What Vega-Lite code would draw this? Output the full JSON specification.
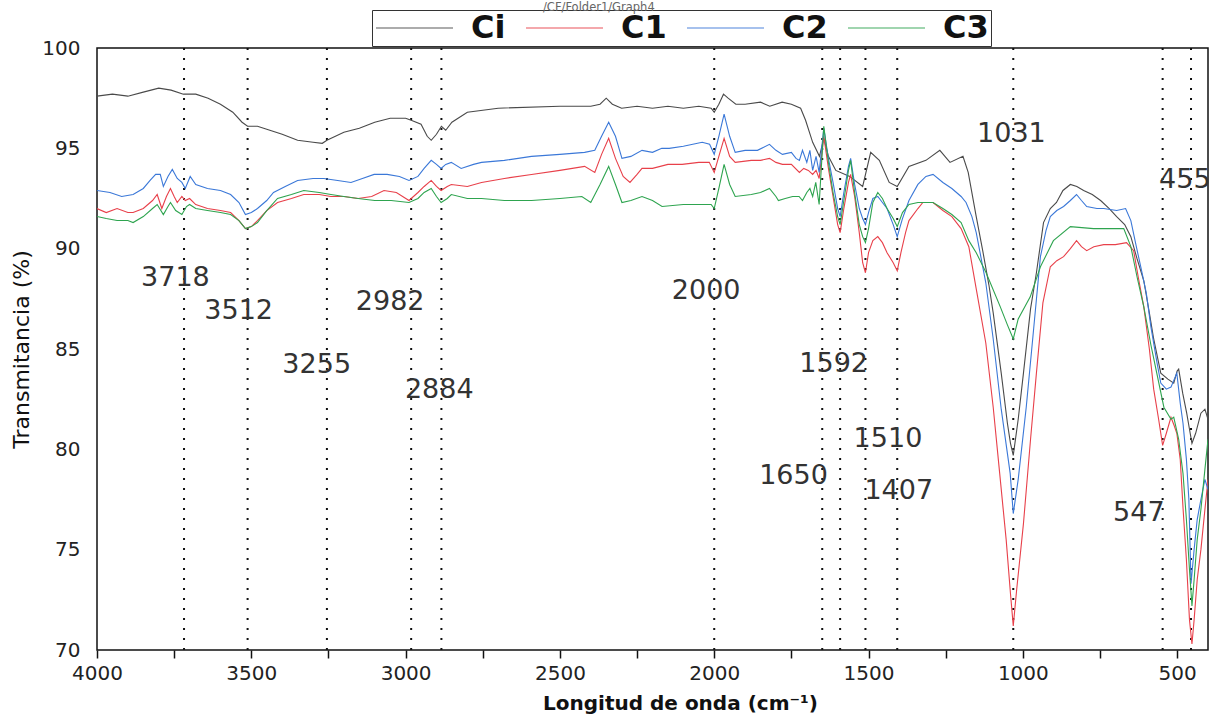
{
"$schema":"https://vega.github.io/schema/vega-lite/v6.json",
"width":1111,"height":602,
"autosize":"none",
"padding":{"left":97,"top":48,"right":5,"bottom":69},
"background":"white",
"config":{"view":{"stroke":"#111","strokeWidth":1.5},"font":"DejaVu Sans"},
"title":{"text":"/CF/Folder1/Graph4","fontSize":11.5,"fontWeight":"normal","color":"#666","anchor":"start","frame":"group","dx":446,"offset":0,"dy":4},
"datasets":{
"peaks":[{"wn":3718},{"wn":3512},{"wn":3255},{"wn":2982},{"wn":2884},{"wn":2000},{"wn":1650},{"wn":1592},{"wn":1510},{"wn":1407},{"wn":1031},{"wn":547},{"wn":455}],
"labels":[
{"wn":3746,"t":88.54,"label":"3718"},{"wn":3541,"t":86.9,"label":"3512"},{"wn":3288,"t":84.2,"label":"3255"},{"wn":3050,"t":87.34,"label":"2982"},{"wn":2891,"t":82.96,"label":"2884"},{"wn":2026,"t":87.9,"label":"2000"},{"wn":1613,"t":84.26,"label":"1592"},{"wn":1743,"t":78.67,"label":"1650"},{"wn":1437,"t":80.52,"label":"1510"},{"wn":1402,"t":77.93,"label":"1407"},{"wn":1037,"t":95.71,"label":"1031"},{"wn":475,"t":93.42,"label":"455"},{"wn":624,"t":76.83,"label":"547"}],
"spectra":[
{"s":"Ci","wn":4000,"t":97.6},{"s":"Ci","wn":3950,"t":97.7},{"s":"Ci","wn":3900,"t":97.6},{"s":"Ci","wn":3850,"t":97.8},{"s":"Ci","wn":3800,"t":98.0},{"s":"Ci","wn":3760,"t":97.9},{"s":"Ci","wn":3720,"t":97.7},{"s":"Ci","wn":3680,"t":97.7},{"s":"Ci","wn":3640,"t":97.5},{"s":"Ci","wn":3600,"t":97.2},{"s":"Ci","wn":3560,"t":96.8},{"s":"Ci","wn":3530,"t":96.3},{"s":"Ci","wn":3512,"t":96.1},{"s":"Ci","wn":3480,"t":96.1},{"s":"Ci","wn":3440,"t":95.9},{"s":"Ci","wn":3400,"t":95.7},{"s":"Ci","wn":3350,"t":95.4},{"s":"Ci","wn":3300,"t":95.3},{"s":"Ci","wn":3270,"t":95.25},{"s":"Ci","wn":3255,"t":95.4},{"s":"Ci","wn":3200,"t":95.8},{"s":"Ci","wn":3150,"t":96.0},{"s":"Ci","wn":3100,"t":96.3},{"s":"Ci","wn":3050,"t":96.5},{"s":"Ci","wn":3000,"t":96.5},{"s":"Ci","wn":2982,"t":96.4},{"s":"Ci","wn":2950,"t":96.2},{"s":"Ci","wn":2930,"t":95.6},{"s":"Ci","wn":2917,"t":95.4},{"s":"Ci","wn":2900,"t":95.7},{"s":"Ci","wn":2884,"t":96.1},{"s":"Ci","wn":2870,"t":95.9},{"s":"Ci","wn":2850,"t":96.3},{"s":"Ci","wn":2800,"t":96.8},{"s":"Ci","wn":2700,"t":97.0},{"s":"Ci","wn":2500,"t":97.1},{"s":"Ci","wn":2400,"t":97.1},{"s":"Ci","wn":2370,"t":97.2},{"s":"Ci","wn":2350,"t":97.5},{"s":"Ci","wn":2330,"t":97.2},{"s":"Ci","wn":2300,"t":97.0},{"s":"Ci","wn":2250,"t":97.1},{"s":"Ci","wn":2200,"t":97.0},{"s":"Ci","wn":2150,"t":97.1},{"s":"Ci","wn":2100,"t":97.0},{"s":"Ci","wn":2050,"t":97.1},{"s":"Ci","wn":2010,"t":97.0},{"s":"Ci","wn":2000,"t":96.8},{"s":"Ci","wn":1985,"t":97.2},{"s":"Ci","wn":1970,"t":97.7},{"s":"Ci","wn":1955,"t":97.5},{"s":"Ci","wn":1930,"t":97.2},{"s":"Ci","wn":1900,"t":97.2},{"s":"Ci","wn":1850,"t":97.3},{"s":"Ci","wn":1820,"t":97.1},{"s":"Ci","wn":1780,"t":97.3},{"s":"Ci","wn":1750,"t":97.2},{"s":"Ci","wn":1720,"t":97.0},{"s":"Ci","wn":1704,"t":96.4},{"s":"Ci","wn":1681,"t":95.3},{"s":"Ci","wn":1659,"t":94.6},{"s":"Ci","wn":1645,"t":95.5},{"s":"Ci","wn":1630,"t":94.6},{"s":"Ci","wn":1606,"t":93.9},{"s":"Ci","wn":1561,"t":93.6},{"s":"Ci","wn":1519,"t":93.1},{"s":"Ci","wn":1493,"t":94.8},{"s":"Ci","wn":1465,"t":94.4},{"s":"Ci","wn":1433,"t":93.3},{"s":"Ci","wn":1407,"t":93.1},{"s":"Ci","wn":1369,"t":94.1},{"s":"Ci","wn":1314,"t":94.4},{"s":"Ci","wn":1269,"t":94.9},{"s":"Ci","wn":1236,"t":94.3},{"s":"Ci","wn":1194,"t":94.6},{"s":"Ci","wn":1177,"t":93.8},{"s":"Ci","wn":1151,"t":91.6},{"s":"Ci","wn":1130,"t":89.9},{"s":"Ci","wn":1110,"t":88.2},{"s":"Ci","wn":1096,"t":86.8},{"s":"Ci","wn":1070,"t":83.8},{"s":"Ci","wn":1050,"t":81.3},{"s":"Ci","wn":1040,"t":80.3},{"s":"Ci","wn":1031,"t":79.7},{"s":"Ci","wn":1015,"t":81.5},{"s":"Ci","wn":998,"t":83.8},{"s":"Ci","wn":975,"t":87.0},{"s":"Ci","wn":956,"t":88.8},{"s":"Ci","wn":933,"t":91.3},{"s":"Ci","wn":911,"t":92.0},{"s":"Ci","wn":891,"t":92.3},{"s":"Ci","wn":870,"t":92.9},{"s":"Ci","wn":846,"t":93.2},{"s":"Ci","wn":825,"t":93.1},{"s":"Ci","wn":803,"t":92.9},{"s":"Ci","wn":775,"t":92.7},{"s":"Ci","wn":748,"t":92.4},{"s":"Ci","wn":720,"t":92.0},{"s":"Ci","wn":696,"t":91.6},{"s":"Ci","wn":670,"t":91.2},{"s":"Ci","wn":650,"t":90.6},{"s":"Ci","wn":630,"t":89.5},{"s":"Ci","wn":608,"t":88.4},{"s":"Ci","wn":590,"t":86.8},{"s":"Ci","wn":576,"t":85.5},{"s":"Ci","wn":553,"t":83.8},{"s":"Ci","wn":530,"t":83.5},{"s":"Ci","wn":511,"t":83.3},{"s":"Ci","wn":500,"t":83.9},{"s":"Ci","wn":495,"t":84.0},{"s":"Ci","wn":482,"t":82.8},{"s":"Ci","wn":469,"t":81.8},{"s":"Ci","wn":460,"t":81.0},{"s":"Ci","wn":452,"t":80.3},{"s":"Ci","wn":440,"t":80.8},{"s":"Ci","wn":423,"t":81.8},{"s":"Ci","wn":410,"t":82.0},{"s":"Ci","wn":400,"t":81.5},
{"s":"C1","wn":4000,"t":92.0},{"s":"C1","wn":3970,"t":91.8},{"s":"C1","wn":3935,"t":92.0},{"s":"C1","wn":3900,"t":91.8},{"s":"C1","wn":3883,"t":91.8},{"s":"C1","wn":3850,"t":92.0},{"s":"C1","wn":3820,"t":92.4},{"s":"C1","wn":3805,"t":92.7},{"s":"C1","wn":3790,"t":92.0},{"s":"C1","wn":3775,"t":92.6},{"s":"C1","wn":3762,"t":93.0},{"s":"C1","wn":3750,"t":92.6},{"s":"C1","wn":3740,"t":92.3},{"s":"C1","wn":3725,"t":92.6},{"s":"C1","wn":3714,"t":92.4},{"s":"C1","wn":3700,"t":92.5},{"s":"C1","wn":3680,"t":92.2},{"s":"C1","wn":3642,"t":92.0},{"s":"C1","wn":3600,"t":91.9},{"s":"C1","wn":3567,"t":91.8},{"s":"C1","wn":3540,"t":91.4},{"s":"C1","wn":3519,"t":91.0},{"s":"C1","wn":3500,"t":91.1},{"s":"C1","wn":3480,"t":91.4},{"s":"C1","wn":3450,"t":91.9},{"s":"C1","wn":3415,"t":92.3},{"s":"C1","wn":3370,"t":92.5},{"s":"C1","wn":3330,"t":92.7},{"s":"C1","wn":3280,"t":92.7},{"s":"C1","wn":3242,"t":92.6},{"s":"C1","wn":3200,"t":92.6},{"s":"C1","wn":3154,"t":92.5},{"s":"C1","wn":3110,"t":92.6},{"s":"C1","wn":3070,"t":92.9},{"s":"C1","wn":3030,"t":92.8},{"s":"C1","wn":2989,"t":92.4},{"s":"C1","wn":2960,"t":92.8},{"s":"C1","wn":2940,"t":93.1},{"s":"C1","wn":2917,"t":93.4},{"s":"C1","wn":2900,"t":93.1},{"s":"C1","wn":2885,"t":92.9},{"s":"C1","wn":2865,"t":93.1},{"s":"C1","wn":2852,"t":93.2},{"s":"C1","wn":2800,"t":93.1},{"s":"C1","wn":2754,"t":93.3},{"s":"C1","wn":2680,"t":93.5},{"s":"C1","wn":2592,"t":93.7},{"s":"C1","wn":2500,"t":93.9},{"s":"C1","wn":2420,"t":94.1},{"s":"C1","wn":2387,"t":93.8},{"s":"C1","wn":2365,"t":94.7},{"s":"C1","wn":2342,"t":95.5},{"s":"C1","wn":2320,"t":94.5},{"s":"C1","wn":2295,"t":93.6},{"s":"C1","wn":2273,"t":93.3},{"s":"C1","wn":2250,"t":93.7},{"s":"C1","wn":2234,"t":94.0},{"s":"C1","wn":2200,"t":94.0},{"s":"C1","wn":2150,"t":94.2},{"s":"C1","wn":2104,"t":94.2},{"s":"C1","wn":2050,"t":94.3},{"s":"C1","wn":2016,"t":94.3},{"s":"C1","wn":2000,"t":93.8},{"s":"C1","wn":1985,"t":94.6},{"s":"C1","wn":1968,"t":95.5},{"s":"C1","wn":1950,"t":94.6},{"s":"C1","wn":1932,"t":94.3},{"s":"C1","wn":1880,"t":94.4},{"s":"C1","wn":1850,"t":94.4},{"s":"C1","wn":1821,"t":94.5},{"s":"C1","wn":1800,"t":94.3},{"s":"C1","wn":1779,"t":94.2},{"s":"C1","wn":1750,"t":94.2},{"s":"C1","wn":1724,"t":93.8},{"s":"C1","wn":1710,"t":94.0},{"s":"C1","wn":1695,"t":93.9},{"s":"C1","wn":1681,"t":93.7},{"s":"C1","wn":1670,"t":93.9},{"s":"C1","wn":1660,"t":93.5},{"s":"C1","wn":1645,"t":95.6},{"s":"C1","wn":1630,"t":94.0},{"s":"C1","wn":1615,"t":92.6},{"s":"C1","wn":1600,"t":91.2},{"s":"C1","wn":1592,"t":90.8},{"s":"C1","wn":1580,"t":92.0},{"s":"C1","wn":1565,"t":93.3},{"s":"C1","wn":1558,"t":93.7},{"s":"C1","wn":1545,"t":92.6},{"s":"C1","wn":1530,"t":90.8},{"s":"C1","wn":1519,"t":89.3},{"s":"C1","wn":1510,"t":88.8},{"s":"C1","wn":1500,"t":89.8},{"s":"C1","wn":1486,"t":90.4},{"s":"C1","wn":1470,"t":90.6},{"s":"C1","wn":1455,"t":90.3},{"s":"C1","wn":1440,"t":89.8},{"s":"C1","wn":1420,"t":89.3},{"s":"C1","wn":1407,"t":88.9},{"s":"C1","wn":1395,"t":89.8},{"s":"C1","wn":1380,"t":90.8},{"s":"C1","wn":1369,"t":91.4},{"s":"C1","wn":1340,"t":92.0},{"s":"C1","wn":1324,"t":92.3},{"s":"C1","wn":1291,"t":92.3},{"s":"C1","wn":1259,"t":91.9},{"s":"C1","wn":1230,"t":91.6},{"s":"C1","wn":1200,"t":91.0},{"s":"C1","wn":1175,"t":90.1},{"s":"C1","wn":1151,"t":88.0},{"s":"C1","wn":1120,"t":85.3},{"s":"C1","wn":1096,"t":82.1},{"s":"C1","wn":1075,"t":78.8},{"s":"C1","wn":1054,"t":75.5},{"s":"C1","wn":1040,"t":72.8},{"s":"C1","wn":1031,"t":71.2},{"s":"C1","wn":1020,"t":73.0},{"s":"C1","wn":998,"t":76.3},{"s":"C1","wn":975,"t":80.5},{"s":"C1","wn":956,"t":83.8},{"s":"C1","wn":935,"t":87.3},{"s":"C1","wn":911,"t":89.1},{"s":"C1","wn":890,"t":89.4},{"s":"C1","wn":868,"t":89.6},{"s":"C1","wn":846,"t":90.0},{"s":"C1","wn":826,"t":90.4},{"s":"C1","wn":810,"t":90.1},{"s":"C1","wn":793,"t":89.9},{"s":"C1","wn":770,"t":90.1},{"s":"C1","wn":738,"t":90.2},{"s":"C1","wn":700,"t":90.2},{"s":"C1","wn":664,"t":90.3},{"s":"C1","wn":641,"t":89.9},{"s":"C1","wn":625,"t":88.5},{"s":"C1","wn":608,"t":87.1},{"s":"C1","wn":590,"t":85.0},{"s":"C1","wn":576,"t":83.0},{"s":"C1","wn":560,"t":81.5},{"s":"C1","wn":547,"t":80.2},{"s":"C1","wn":535,"t":80.8},{"s":"C1","wn":520,"t":81.6},{"s":"C1","wn":510,"t":81.2},{"s":"C1","wn":501,"t":80.8},{"s":"C1","wn":490,"t":79.5},{"s":"C1","wn":481,"t":77.1},{"s":"C1","wn":470,"t":74.5},{"s":"C1","wn":460,"t":71.5},{"s":"C1","wn":452,"t":70.3},{"s":"C1","wn":445,"t":71.5},{"s":"C1","wn":435,"t":73.5},{"s":"C1","wn":423,"t":75.0},{"s":"C1","wn":410,"t":77.0},{"s":"C1","wn":400,"t":78.5},
{"s":"C2","wn":4000,"t":92.9},{"s":"C2","wn":3958,"t":92.8},{"s":"C2","wn":3920,"t":92.6},{"s":"C2","wn":3883,"t":92.7},{"s":"C2","wn":3850,"t":93.0},{"s":"C2","wn":3828,"t":93.4},{"s":"C2","wn":3810,"t":93.7},{"s":"C2","wn":3795,"t":93.7},{"s":"C2","wn":3785,"t":93.1},{"s":"C2","wn":3770,"t":93.6},{"s":"C2","wn":3756,"t":93.95},{"s":"C2","wn":3740,"t":93.5},{"s":"C2","wn":3725,"t":93.3},{"s":"C2","wn":3714,"t":93.0},{"s":"C2","wn":3698,"t":93.6},{"s":"C2","wn":3680,"t":93.2},{"s":"C2","wn":3642,"t":93.0},{"s":"C2","wn":3600,"t":92.9},{"s":"C2","wn":3567,"t":92.7},{"s":"C2","wn":3540,"t":92.3},{"s":"C2","wn":3519,"t":91.7},{"s":"C2","wn":3500,"t":91.8},{"s":"C2","wn":3480,"t":92.0},{"s":"C2","wn":3450,"t":92.4},{"s":"C2","wn":3428,"t":92.8},{"s":"C2","wn":3390,"t":93.1},{"s":"C2","wn":3350,"t":93.4},{"s":"C2","wn":3300,"t":93.5},{"s":"C2","wn":3265,"t":93.5},{"s":"C2","wn":3220,"t":93.4},{"s":"C2","wn":3177,"t":93.3},{"s":"C2","wn":3140,"t":93.5},{"s":"C2","wn":3102,"t":93.7},{"s":"C2","wn":3060,"t":93.7},{"s":"C2","wn":3020,"t":93.6},{"s":"C2","wn":2989,"t":93.4},{"s":"C2","wn":2960,"t":93.6},{"s":"C2","wn":2940,"t":94.0},{"s":"C2","wn":2917,"t":94.4},{"s":"C2","wn":2900,"t":94.2},{"s":"C2","wn":2885,"t":94.0},{"s":"C2","wn":2870,"t":94.2},{"s":"C2","wn":2852,"t":94.3},{"s":"C2","wn":2820,"t":94.0},{"s":"C2","wn":2780,"t":94.2},{"s":"C2","wn":2754,"t":94.3},{"s":"C2","wn":2680,"t":94.4},{"s":"C2","wn":2592,"t":94.6},{"s":"C2","wn":2500,"t":94.7},{"s":"C2","wn":2420,"t":94.8},{"s":"C2","wn":2387,"t":94.9},{"s":"C2","wn":2365,"t":95.6},{"s":"C2","wn":2342,"t":96.3},{"s":"C2","wn":2320,"t":95.6},{"s":"C2","wn":2299,"t":94.5},{"s":"C2","wn":2270,"t":94.6},{"s":"C2","wn":2234,"t":94.9},{"s":"C2","wn":2200,"t":94.8},{"s":"C2","wn":2170,"t":95.0},{"s":"C2","wn":2146,"t":95.0},{"s":"C2","wn":2100,"t":95.1},{"s":"C2","wn":2039,"t":95.3},{"s":"C2","wn":2015,"t":95.2},{"s":"C2","wn":2000,"t":94.7},{"s":"C2","wn":1985,"t":95.6},{"s":"C2","wn":1968,"t":96.7},{"s":"C2","wn":1950,"t":95.6},{"s":"C2","wn":1932,"t":94.8},{"s":"C2","wn":1900,"t":94.9},{"s":"C2","wn":1860,"t":94.9},{"s":"C2","wn":1821,"t":95.2},{"s":"C2","wn":1800,"t":94.9},{"s":"C2","wn":1779,"t":94.7},{"s":"C2","wn":1750,"t":94.8},{"s":"C2","wn":1735,"t":94.5},{"s":"C2","wn":1724,"t":94.4},{"s":"C2","wn":1714,"t":94.9},{"s":"C2","wn":1700,"t":94.3},{"s":"C2","wn":1690,"t":94.9},{"s":"C2","wn":1681,"t":93.9},{"s":"C2","wn":1670,"t":94.6},{"s":"C2","wn":1660,"t":93.8},{"s":"C2","wn":1645,"t":96.0},{"s":"C2","wn":1630,"t":94.5},{"s":"C2","wn":1615,"t":93.3},{"s":"C2","wn":1600,"t":92.0},{"s":"C2","wn":1592,"t":91.6},{"s":"C2","wn":1580,"t":92.8},{"s":"C2","wn":1565,"t":94.1},{"s":"C2","wn":1558,"t":94.5},{"s":"C2","wn":1545,"t":93.2},{"s":"C2","wn":1530,"t":92.0},{"s":"C2","wn":1519,"t":91.5},{"s":"C2","wn":1510,"t":91.2},{"s":"C2","wn":1500,"t":91.8},{"s":"C2","wn":1486,"t":92.5},{"s":"C2","wn":1470,"t":92.6},{"s":"C2","wn":1455,"t":92.3},{"s":"C2","wn":1440,"t":92.0},{"s":"C2","wn":1420,"t":91.2},{"s":"C2","wn":1407,"t":90.6},{"s":"C2","wn":1390,"t":91.5},{"s":"C2","wn":1369,"t":92.4},{"s":"C2","wn":1340,"t":93.2},{"s":"C2","wn":1314,"t":93.6},{"s":"C2","wn":1291,"t":93.7},{"s":"C2","wn":1259,"t":93.3},{"s":"C2","wn":1230,"t":93.0},{"s":"C2","wn":1200,"t":92.6},{"s":"C2","wn":1184,"t":92.3},{"s":"C2","wn":1165,"t":91.6},{"s":"C2","wn":1151,"t":90.8},{"s":"C2","wn":1120,"t":88.3},{"s":"C2","wn":1096,"t":85.5},{"s":"C2","wn":1070,"t":82.0},{"s":"C2","wn":1041,"t":78.8},{"s":"C2","wn":1031,"t":76.8},{"s":"C2","wn":1015,"t":78.5},{"s":"C2","wn":989,"t":82.1},{"s":"C2","wn":965,"t":86.0},{"s":"C2","wn":943,"t":89.6},{"s":"C2","wn":925,"t":90.9},{"s":"C2","wn":911,"t":91.6},{"s":"C2","wn":890,"t":91.9},{"s":"C2","wn":868,"t":92.1},{"s":"C2","wn":846,"t":92.4},{"s":"C2","wn":826,"t":92.7},{"s":"C2","wn":810,"t":92.4},{"s":"C2","wn":793,"t":92.1},{"s":"C2","wn":760,"t":92.0},{"s":"C2","wn":738,"t":92.0},{"s":"C2","wn":696,"t":91.9},{"s":"C2","wn":667,"t":92.0},{"s":"C2","wn":650,"t":91.4},{"s":"C2","wn":635,"t":90.3},{"s":"C2","wn":618,"t":89.1},{"s":"C2","wn":600,"t":87.8},{"s":"C2","wn":585,"t":86.1},{"s":"C2","wn":565,"t":84.3},{"s":"C2","wn":553,"t":83.3},{"s":"C2","wn":535,"t":83.0},{"s":"C2","wn":520,"t":83.1},{"s":"C2","wn":501,"t":83.8},{"s":"C2","wn":490,"t":82.3},{"s":"C2","wn":481,"t":81.3},{"s":"C2","wn":470,"t":79.5},{"s":"C2","wn":462,"t":77.5},{"s":"C2","wn":455,"t":73.3},{"s":"C2","wn":445,"t":75.0},{"s":"C2","wn":435,"t":76.5},{"s":"C2","wn":423,"t":77.5},{"s":"C2","wn":410,"t":78.5},{"s":"C2","wn":400,"t":78.0},
{"s":"C3","wn":4000,"t":91.6},{"s":"C3","wn":3970,"t":91.5},{"s":"C3","wn":3935,"t":91.4},{"s":"C3","wn":3900,"t":91.4},{"s":"C3","wn":3883,"t":91.3},{"s":"C3","wn":3850,"t":91.6},{"s":"C3","wn":3820,"t":92.0},{"s":"C3","wn":3805,"t":92.2},{"s":"C3","wn":3785,"t":91.7},{"s":"C3","wn":3770,"t":92.1},{"s":"C3","wn":3762,"t":92.3},{"s":"C3","wn":3745,"t":91.9},{"s":"C3","wn":3725,"t":91.7},{"s":"C3","wn":3710,"t":92.1},{"s":"C3","wn":3700,"t":92.2},{"s":"C3","wn":3680,"t":92.0},{"s":"C3","wn":3642,"t":91.9},{"s":"C3","wn":3600,"t":91.8},{"s":"C3","wn":3567,"t":91.7},{"s":"C3","wn":3540,"t":91.4},{"s":"C3","wn":3519,"t":91.0},{"s":"C3","wn":3500,"t":91.1},{"s":"C3","wn":3480,"t":91.3},{"s":"C3","wn":3450,"t":91.9},{"s":"C3","wn":3415,"t":92.5},{"s":"C3","wn":3370,"t":92.7},{"s":"C3","wn":3330,"t":92.9},{"s":"C3","wn":3280,"t":92.8},{"s":"C3","wn":3242,"t":92.7},{"s":"C3","wn":3200,"t":92.6},{"s":"C3","wn":3154,"t":92.5},{"s":"C3","wn":3100,"t":92.4},{"s":"C3","wn":3047,"t":92.4},{"s":"C3","wn":2989,"t":92.3},{"s":"C3","wn":2960,"t":92.5},{"s":"C3","wn":2940,"t":92.8},{"s":"C3","wn":2917,"t":93.0},{"s":"C3","wn":2900,"t":92.6},{"s":"C3","wn":2885,"t":92.3},{"s":"C3","wn":2865,"t":92.5},{"s":"C3","wn":2852,"t":92.7},{"s":"C3","wn":2800,"t":92.5},{"s":"C3","wn":2754,"t":92.5},{"s":"C3","wn":2680,"t":92.4},{"s":"C3","wn":2592,"t":92.4},{"s":"C3","wn":2500,"t":92.5},{"s":"C3","wn":2429,"t":92.6},{"s":"C3","wn":2400,"t":92.3},{"s":"C3","wn":2370,"t":93.2},{"s":"C3","wn":2342,"t":94.1},{"s":"C3","wn":2320,"t":93.2},{"s":"C3","wn":2299,"t":92.3},{"s":"C3","wn":2270,"t":92.4},{"s":"C3","wn":2234,"t":92.6},{"s":"C3","wn":2200,"t":92.4},{"s":"C3","wn":2169,"t":92.1},{"s":"C3","wn":2100,"t":92.2},{"s":"C3","wn":2039,"t":92.2},{"s":"C3","wn":2010,"t":92.2},{"s":"C3","wn":2000,"t":92.0},{"s":"C3","wn":1985,"t":93.0},{"s":"C3","wn":1968,"t":94.2},{"s":"C3","wn":1950,"t":93.2},{"s":"C3","wn":1932,"t":92.6},{"s":"C3","wn":1880,"t":92.7},{"s":"C3","wn":1850,"t":92.8},{"s":"C3","wn":1821,"t":93.0},{"s":"C3","wn":1800,"t":92.6},{"s":"C3","wn":1792,"t":92.4},{"s":"C3","wn":1770,"t":92.5},{"s":"C3","wn":1746,"t":92.6},{"s":"C3","wn":1725,"t":92.6},{"s":"C3","wn":1714,"t":92.4},{"s":"C3","wn":1700,"t":92.8},{"s":"C3","wn":1690,"t":93.0},{"s":"C3","wn":1681,"t":92.6},{"s":"C3","wn":1671,"t":93.3},{"s":"C3","wn":1660,"t":92.2},{"s":"C3","wn":1645,"t":96.1},{"s":"C3","wn":1630,"t":94.3},{"s":"C3","wn":1615,"t":92.8},{"s":"C3","wn":1600,"t":91.6},{"s":"C3","wn":1592,"t":91.2},{"s":"C3","wn":1580,"t":92.4},{"s":"C3","wn":1565,"t":93.9},{"s":"C3","wn":1558,"t":94.4},{"s":"C3","wn":1545,"t":92.8},{"s":"C3","wn":1530,"t":91.2},{"s":"C3","wn":1519,"t":90.6},{"s":"C3","wn":1510,"t":90.3},{"s":"C3","wn":1500,"t":91.0},{"s":"C3","wn":1486,"t":92.3},{"s":"C3","wn":1470,"t":92.8},{"s":"C3","wn":1455,"t":92.5},{"s":"C3","wn":1440,"t":92.0},{"s":"C3","wn":1420,"t":91.5},{"s":"C3","wn":1407,"t":91.1},{"s":"C3","wn":1390,"t":91.8},{"s":"C3","wn":1369,"t":92.2},{"s":"C3","wn":1340,"t":92.3},{"s":"C3","wn":1324,"t":92.3},{"s":"C3","wn":1291,"t":92.3},{"s":"C3","wn":1259,"t":92.0},{"s":"C3","wn":1230,"t":91.7},{"s":"C3","wn":1200,"t":91.3},{"s":"C3","wn":1175,"t":90.4},{"s":"C3","wn":1151,"t":89.8},{"s":"C3","wn":1119,"t":88.8},{"s":"C3","wn":1073,"t":87.1},{"s":"C3","wn":1050,"t":86.2},{"s":"C3","wn":1031,"t":85.5},{"s":"C3","wn":1015,"t":86.5},{"s":"C3","wn":976,"t":87.6},{"s":"C3","wn":943,"t":89.1},{"s":"C3","wn":901,"t":90.4},{"s":"C3","wn":846,"t":91.1},{"s":"C3","wn":771,"t":91.0},{"s":"C3","wn":700,"t":91.0},{"s":"C3","wn":673,"t":91.0},{"s":"C3","wn":650,"t":90.1},{"s":"C3","wn":630,"t":88.6},{"s":"C3","wn":608,"t":87.1},{"s":"C3","wn":585,"t":85.2},{"s":"C3","wn":566,"t":83.8},{"s":"C3","wn":543,"t":82.1},{"s":"C3","wn":520,"t":81.5},{"s":"C3","wn":511,"t":81.6},{"s":"C3","wn":495,"t":80.5},{"s":"C3","wn":481,"t":78.8},{"s":"C3","wn":470,"t":76.5},{"s":"C3","wn":460,"t":74.0},{"s":"C3","wn":452,"t":72.2},{"s":"C3","wn":445,"t":73.5},{"s":"C3","wn":435,"t":75.5},{"s":"C3","wn":423,"t":77.0},{"s":"C3","wn":410,"t":79.0},{"s":"C3","wn":400,"t":80.5}
]},
"layer":[
{"data":{"name":"peaks"},
 "mark":{"type":"rule","strokeDash":[2,8],"strokeWidth":2,"color":"#111"},
 "encoding":{"x":{"field":"wn","type":"quantitative","title":"Longitud de onda (cm⁻¹)","scale":{"domain":[400,4000],"reverse":true,"nice":false,"zero":false}}}},
{"data":{"name":"spectra"},
 "mark":{"type":"line","strokeWidth":1.1,"clip":true},
 "encoding":{
  "x":{"field":"wn","type":"quantitative","title":"Longitud de onda (cm⁻¹)","scale":{"domain":[400,4000],"reverse":true,"nice":false,"zero":false},
   "axis":{"values":[4000,3750,3500,3250,3000,2750,2500,2250,2000,1750,1500,1250,1000,750,500],"format":"d","labelExpr":"datum.value % 500 == 0 ? datum.label : ''","grid":false,"domain":false,"ticks":true,"tickSize":8,"tickWidth":1.5,"tickColor":"#111","labelFont":"DejaVu Sans","labelFontSize":20,"labelColor":"#222","labelPadding":5,"labelFlush":false,"labelOverlap":false,"titleFont":"DejaVu Sans","titleFontSize":20,"titleFontWeight":"bold","titleColor":"#111","titlePadding":10,"titleX":583,"titleAnchor":null,"titleAlign":"center"}},
  "y":{"field":"t","type":"quantitative","title":"Transmitancia (%)","scale":{"domain":[70,100],"nice":false,"zero":false},
   "axis":{"values":[70,75,80,85,90,95,100],"grid":false,"domain":false,"ticks":false,"labelFont":"DejaVu Sans","labelFontSize":20,"labelColor":"#222","labelPadding":17,"titleFont":"DejaVu Sans","titleFontSize":22,"titleFontWeight":"normal","titleColor":"#111","titlePadding":8}},
  "color":{"field":"s","type":"nominal","sort":["Ci","C1","C2","C3"],"scale":{"domain":["Ci","C1","C2","C3"],"range":["#4a4a4a","#e8404a","#3b78d8","#2ea44f"]},
   "legend":{"orient":"none","legendX":275,"legendY":-38,"direction":"horizontal","columns":4,"title":null,"symbolType":"M-1,0H4.5","symbolSize":784,"symbolStrokeWidth":2,"symbolOpacity":0.45,"labelFont":"DejaVu Sans","labelFontSize":32,"labelFontWeight":"bold","labelColor":"#111","labelOffset":65,"columnPadding":16,"strokeColor":"#333","padding":2}}}},
{"data":{"name":"labels"},
 "mark":{"type":"text","fontSize":27,"color":"#333","font":"DejaVu Sans"},
 "encoding":{
  "x":{"field":"wn","type":"quantitative","title":"Longitud de onda (cm⁻¹)","scale":{"domain":[400,4000],"reverse":true,"nice":false,"zero":false}},
  "y":{"field":"t","type":"quantitative","title":"Transmitancia (%)","scale":{"domain":[70,100],"nice":false,"zero":false}},
  "text":{"field":"label"}}}
]
}
